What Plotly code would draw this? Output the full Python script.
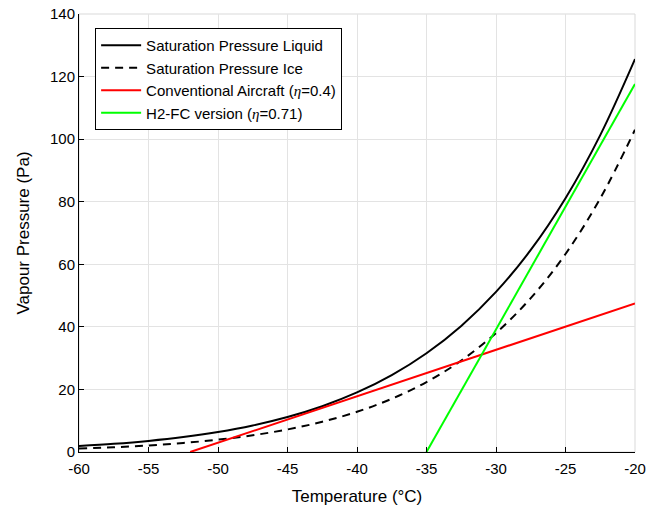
import plotly.graph_objects as go

temperature = [-60, -57.5, -55, -52.5, -50, -47.5, -45, -42.5, -40, -37.5, -35,
               -32.5, -30, -27.5, -25, -22.5, -20]
p_liquid = [1.90, 2.61, 3.54, 4.77, 6.38, 8.47, 11.17, 14.63, 19.03, 24.59, 31.57,
            40.31, 51.17, 64.58, 81.12, 101.3, 125.6]
p_ice = [1.08, 1.51, 2.10, 2.88, 3.94, 5.35, 7.21, 9.66, 12.85, 17.00, 22.36,
         29.24, 38.03, 49.19, 63.29, 81.05, 103.0]
conv_T = [-52, -20]
conv_p = [0, 47.5]
h2_T = [-35, -20]
h2_p = [0, 117.6]

x_ticks = [-60, -55, -50, -45, -40, -35, -30, -25, -20]
x_tick_labels = ["-60", "-55", "-50", "-45", "-40", "-35", "-30", "-25", "-20"]
y_ticks = [0, 20, 40, 60, 80, 100, 120, 140]
y_tick_labels = ["0", "20", "40", "60", "80", "100", "120", "140"]

fig = go.Figure()
fig.add_trace(go.Scatter(x=temperature, y=p_liquid, mode="lines", line_shape="spline",
                         name="Saturation Pressure Liquid", line=dict(color="black", width=2)))
fig.add_trace(go.Scatter(x=temperature, y=p_ice, mode="lines", line_shape="spline",
                         name="Saturation Pressure Ice",
                         line=dict(color="black", width=2, dash="8px,6px")))
fig.add_trace(go.Scatter(x=conv_T, y=conv_p, mode="lines",
                         name="Conventional Aircraft (<i style='font-family:Liberation Serif'>η</i>=0.4)",
                         line=dict(color="#ff0000", width=2)))
fig.add_trace(go.Scatter(x=h2_T, y=h2_p, mode="lines",
                         name="H2-FC version (<i style='font-family:Liberation Serif'>η</i>=0.71)",
                         line=dict(color="#00ff00", width=2)))

fig.add_shape(type="rect", xref="paper", yref="paper", x0=0, y0=0, x1=1, y1=1,
              line=dict(color="#d9d9d9", width=1), layer="below")

axis_common = dict(showgrid=True, gridcolor="#e3e3e3", gridwidth=1, zeroline=False,
                   showline=True, linecolor="black", linewidth=1, ticks="inside",
                   ticklen=5, tickcolor="black", automargin=False,
                   tickfont=dict(family="Liberation Sans, Arial", size=15, color="black"))

fig.update_layout(
    width=665, height=509,
    margin=dict(l=79, r=30, t=14, b=57),
    paper_bgcolor="white", plot_bgcolor="white",
    font=dict(family="Liberation Sans, Arial", color="black"),
    xaxis=dict(range=[-60, -20], tickvals=x_ticks, ticktext=x_tick_labels,
               ticklabelstandoff=3,
               title=dict(text="Temperature (°C)", font=dict(size=17), standoff=14),
               **axis_common),
    yaxis=dict(range=[0, 140], tickvals=y_ticks, ticktext=y_tick_labels,
               title=dict(text="Vapour Pressure (Pa)", font=dict(size=17), standoff=16),
               **axis_common),
    legend=dict(x=0.029, y=0.968, xanchor="left", yanchor="top",
                bgcolor="white", bordercolor="black", borderwidth=1,
                font=dict(family="Liberation Sans, Arial", size=15, color="black"),
                tracegroupgap=0, itemwidth=40),
    showlegend=True,
)

fig.write_html("out.html", config={"displayModeBar": False},
               post_script="document.body.style.margin='0';")
